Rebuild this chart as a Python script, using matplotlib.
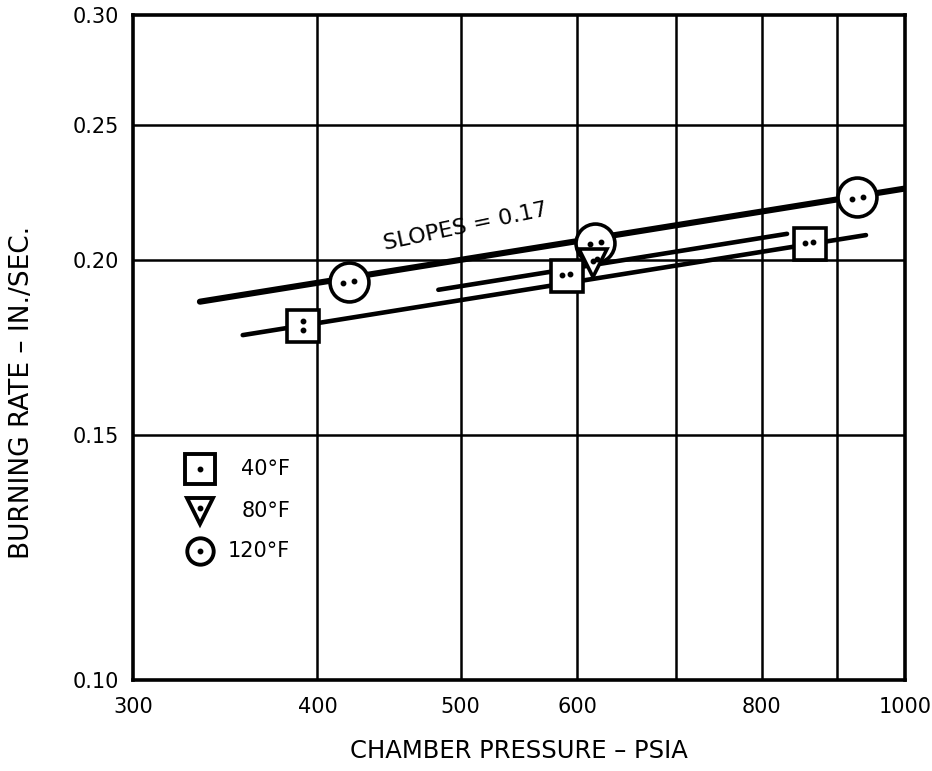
import matplotlib
matplotlib.use("Agg")
import matplotlib.pyplot as plt
import numpy as np
from matplotlib.transforms import offset_copy

plt.rcParams['font.family'] = ['DejaVu Sans']

# Measured burning rates (in./sec) versus chamber pressure (psia)
pressure_40 = [391, 590, 862]
rate_40 = [0.1795, 0.195, 0.2055]
pressure_80 = [615]
rate_80 = [0.199]
pressure_120 = [420, 617, 928]
rate_120 = [0.193, 0.206, 0.222]

# Fitted burning-rate lines: r = r600 * (p / 600) ** slope
slope = 0.17
r600_40, r600_80, r600_120 = 0.1932, 0.1977, 0.2065
span_40 = [356, 941]
span_80 = [483, 832]
span_120 = [333, 1000]

x_ticks = [300, 400, 500, 600, 800, 1000]
x_grid = [400, 500, 600, 700, 800, 900]
y_ticks = [0.10, 0.15, 0.20, 0.25, 0.30]
y_grid = [0.15, 0.20, 0.25]
legend_labels = ['40\u00b0F', '80\u00b0F', '120\u00b0F']

fig = plt.figure(figsize=(9.32, 7.71), dpi=100)
ax = fig.add_axes([0.1427, 0.118, 0.8283, 0.8625])
ax.set_xscale('log')
ax.set_yscale('log')
ax.set_xlim(300, 1000)
ax.set_ylim(0.10, 0.30)

for gx in x_grid:
    ax.axvline(gx, color='black', lw=1.8, zorder=1)
for gy in y_grid:
    ax.axhline(gy, color='black', lw=1.8, zorder=1)

for sp in ax.spines.values():
    sp.set_linewidth(2.6)

ax.xaxis.set_major_locator(matplotlib.ticker.FixedLocator(x_ticks))
ax.xaxis.set_minor_locator(matplotlib.ticker.NullLocator())
ax.set_xticklabels([str(v) for v in x_ticks])
ax.yaxis.set_major_locator(matplotlib.ticker.FixedLocator(y_ticks))
ax.yaxis.set_minor_locator(matplotlib.ticker.NullLocator())
ax.set_yticklabels([f"{v:.2f}" for v in y_ticks])
ax.tick_params(axis='both', length=0, labelsize=15)
ax.tick_params(axis='x', pad=12)
ax.tick_params(axis='y', pad=10)

def fit_line(r600, span, lw):
    p = np.array(span, dtype=float)
    ax.plot(p, r600 * (p / 600.0) ** slope, color='black', lw=lw,
            solid_capstyle='round', zorder=2)

fit_line(r600_120, span_120, 4.4)
fit_line(r600_40, span_40, 3.3)
fit_line(r600_80, span_80, 3.3)

def dots(px, py, offsets):
    for (dx, dy) in offsets:
        tr = offset_copy(ax.transData, fig=fig, x=dx, y=dy, units='points')
        ax.plot([px], [py], 'o', ms=3.2, color='black', transform=tr, zorder=6)

# 40 F squares
for i, (p, r) in enumerate(zip(pressure_40, rate_40)):
    ax.plot(p, r, 's', ms=23, mfc='white', mec='black', mew=2.6, zorder=4)
    if i == 0:
        dots(p, r, [(0, 3.5), (0, -3.0)])
    else:
        dots(p, r, [(-3.5, 0.5), (2.5, 1.5)])

# 120 F circles
for p, r in zip(pressure_120, rate_120):
    ax.plot(p, r, 'o', ms=28, mfc='white', mec='black', mew=2.6, zorder=4)
    dots(p, r, [(-4.0, -1.0), (4.0, 0.5)])

# 80 F triangles
for p, r in zip(pressure_80, rate_80):
    ax.plot(p, r, 'v', ms=20, mfc='white', mec='black', mew=2.6, zorder=5)
    dots(p, r, [(0, 1.5), (3.0, 3.0)])

ax.text(504, 0.2115, 'SLOPES = 0.17', fontsize=16, rotation=12,
        ha='center', va='center', zorder=3)

# Symbol key
key_x = 0.0868
key_y = [0.3173, 0.254, 0.194]
key_style = [dict(marker='s', ms=21), dict(marker='v', ms=19), dict(marker='o', ms=19)]
for ky, st, lab in zip(key_y, key_style, legend_labels):
    ax.plot([key_x], [ky], linestyle='none', mfc='white', mec='black', mew=2.8,
            transform=ax.transAxes, zorder=5, **st)
    ax.plot([key_x], [ky + (0.004 if st['marker'] == 'v' else 0)], 'o', ms=3.2,
            color='black', transform=ax.transAxes, zorder=6)
    ax.text(0.2034, ky, lab, transform=ax.transAxes, ha='right', va='center',
            fontsize=15)

ax.set_xlabel('CHAMBER PRESSURE \u2013 PSIA', fontsize=17.5, labelpad=16)
ax.set_ylabel('BURNING RATE \u2013 IN./SEC.', fontsize=19)
ax.yaxis.set_label_coords(-0.127, 0.433)

fig.savefig('out.png', dpi=100)
